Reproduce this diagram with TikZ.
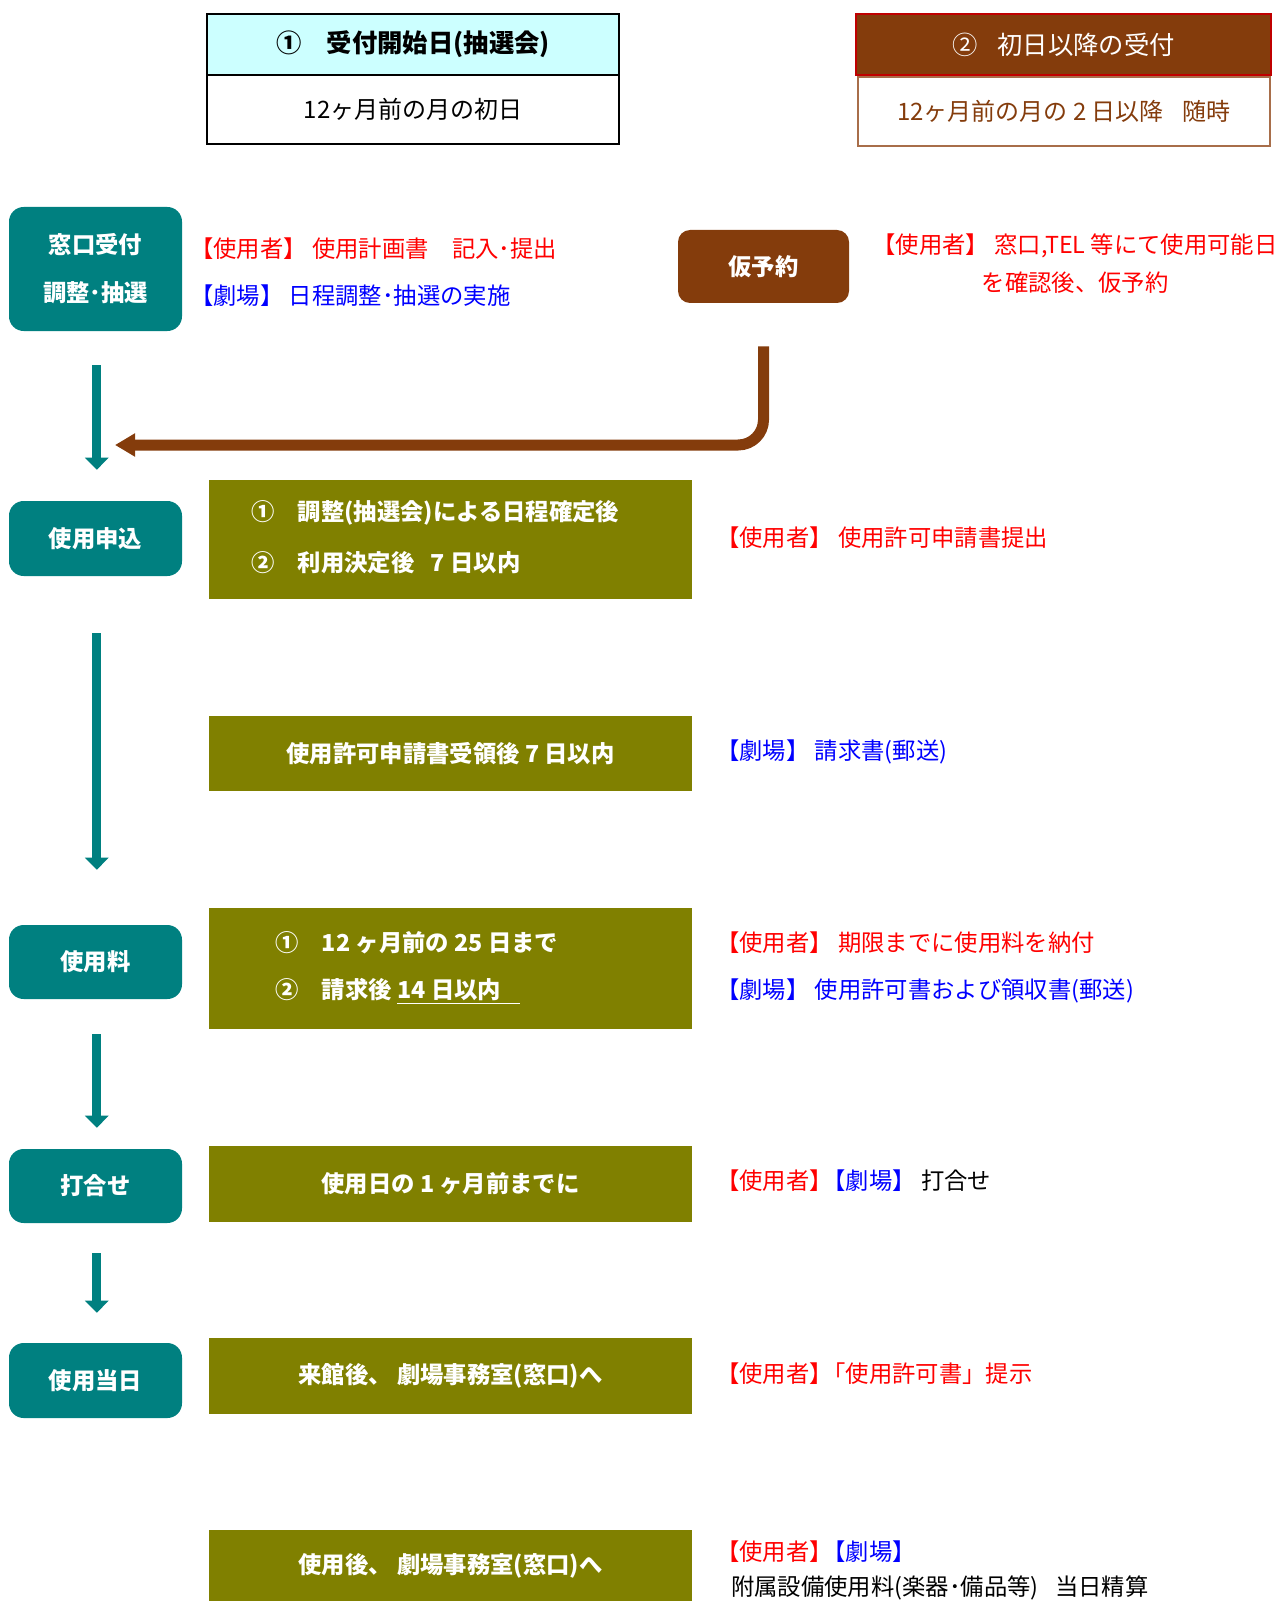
\documentclass[tikz,border=0pt]{standalone}
\usepackage{fontspec}
\setmainfont{Noto Sans CJK JP}
\usetikzlibrary{arrows.meta}
\definecolor{cTeal}{HTML}{008080}
\definecolor{cOlive}{HTML}{808000}
\definecolor{cBrown}{HTML}{843C0C}
\definecolor{cCyan}{HTML}{CCFFFF}
\definecolor{cRed}{HTML}{FF0000}
\definecolor{cBlue}{HTML}{0000FF}
\definecolor{cDarkRed}{HTML}{C00000}
\definecolor{cBrownLine}{HTML}{A86E4A}
\newcommand{\nk}{\hspace{-0.45em}}
\tikzset{
  hdrbox/.style={draw, line width=0.9pt, inner sep=0, minimum width=309pt, minimum height=45.75pt},
  bodybox/.style={draw, line width=0.9pt, inner sep=0, minimum width=309pt, minimum height=51.75pt},
  tealbox/.style={fill=cTeal, rounded corners=11pt, text=white, align=center,
    font=\bfseries\fontsize{17.5}{36}\selectfont, minimum width=129.75pt, inner sep=0},
  olivebox/.style={fill=cOlive, text=white, inner sep=0,
    font=\bfseries\fontsize{17.5}{21}\selectfont, minimum width=362.25pt},
  olivetext/.style={anchor=west, inner sep=0, text=white, font=\bfseries\fontsize{17.5}{21}\selectfont},
  note/.style={anchor=west, inner sep=0, font=\fontsize{17.5}{21}\selectfont},
  tealarrow/.style={draw=cTeal, line width=6.75pt, -{Triangle[width=17.25pt,length=9pt]}},
  brownarrow/.style={draw=cBrown, line width=8.25pt, rounded corners=19pt, -{Triangle[width=16.5pt,length=15pt]}}
}
\begin{document}
\begin{tikzpicture}[x=0.75pt, y=-0.75pt]
\useasboundingbox (0,0) rectangle (1284,1601);

% top header boxes
\node[hdrbox, fill=cCyan, font=\bfseries\fontsize{19}{22}\selectfont] (h1) at (413,44.5) {①\quad 受付開始日(抽選会)};
\node[bodybox, font=\fontsize{18}{22}\selectfont] (b1) at (413,109.5) {12ヶ月前の月の初日};
\node[hdrbox, draw=cDarkRed, fill=cBrown, text=white, minimum width=311.25pt, font=\fontsize{19}{22}\selectfont] (h2) at (1063.5,44.5) {②\hspace{0.8em}初日以降の受付};
\node[bodybox, draw=cBrownLine, text=cBrown, font=\fontsize{18}{22}\selectfont] (b2) at (1064,111.5) {12ヶ月前の月の 2 日以降\hspace{0.8em}随時};

% teal step boxes
\node[tealbox, minimum height=93pt] (mado) at (95.5,269) {窓口受付\\調整･抽選};
\node[tealbox, minimum height=56.25pt] (moushikomi) at (95.5,538.5) {使用申込};
\node[tealbox, minimum height=55.5pt] (ryo) at (95.5,962) {使用料};
\node[tealbox, minimum height=55.5pt] (uchi) at (95.5,1186) {打合せ};
\node[tealbox, minimum height=56.25pt] (toujitsu) at (95.5,1380.5) {使用当日};

% provisional booking
\node[fill=cBrown, rounded corners=9pt, text=white, inner sep=0, minimum width=128.25pt, minimum height=54.75pt,
  font=\bfseries\fontsize{17.5}{21}\selectfont] (kari) at (763.5,266.5) {仮予約};

% olive boxes
\node[olivebox, minimum height=89.25pt] (o1) at (450.5,539.5) {};
\node[olivetext] (o1a) at (251,513) {①\quad 調整(抽選会)による日程確定後};
\node[olivetext] (o1b) at (251,563) {②\quad 利用決定後\hspace{0.7em}7 日以内};
\node[olivebox, minimum height=56.25pt] (o2) at (450.5,753.5) {使用許可申請書受領後 7 日以内};
\node[olivebox, minimum height=90.75pt] (o3) at (450.5,968.5) {};
\node[olivetext] (o3a) at (275,943) {①\quad 12 ヶ月前の 25 日まで};
\node[olivetext] (o3b) at (275,991) {②\quad 請求後 \underline{14 日以内\hspace{0.8em}}};
\node[olivebox, minimum height=57pt] (o4) at (450.5,1184) {使用日の 1 ヶ月前までに};
\node[olivebox, minimum height=57pt] (o5) at (450.5,1376) {来館後、 劇場事務室(窓口)へ};
\node[olivebox, minimum height=53.25pt] (o6) at (450.5,1565.5) {使用後、 劇場事務室(窓口)へ};

% notes
\node[note, text=cRed] (t1a) at (190,249) {【使用者】 使用計画書\quad 記入･提出};
\node[note, text=cBlue] (t1b) at (190,296) {【劇場】 日程調整･抽選の実施};
\node[inner sep=0, text=cRed, align=center, font=\fontsize{17.5}{28.5}\selectfont] (tk) at (1075,264)
  {【使用者】 窓口,TEL 等にて使用可能日\\を確認後、仮予約};
\node[note, text=cRed] (t2) at (716,538) {【使用者】 使用許可申請書提出};
\node[note, text=cBlue] (t3) at (716,752) {【劇場】 請求書(郵送)};
\node[note, text=cRed] (t4a) at (716,943) {【使用者】 期限までに使用料を納付};
\node[note, text=cBlue] (t4b) at (716,991) {【劇場】 使用許可書および領収書(郵送)};
\node[note] (t5) at (716,1181) {\textcolor{cRed}{【使用者】}\nk\textcolor{cBlue}{【劇場】} 打合せ};
\node[note, text=cRed] (t6) at (716,1374) {【使用者】\nk「使用許可書」提示};
\node[note] (t7a) at (716,1552) {\textcolor{cRed}{【使用者】}\nk\textcolor{cBlue}{【劇場】}};
\node[note] (t7b) at (731,1588) {附属設備使用料(楽器･備品等)\hspace{0.7em}当日精算};

% connectors
\coordinate (karitip) at (115,445);
\draw[brownarrow] ([yshift=-32.25pt]kari.south) |- (karitip);
\draw[tealarrow, shorten <=25.5pt, shorten >=23.25pt] ([xshift=1pt]mado.south) -- ([xshift=1pt]moushikomi.north);
\draw[tealarrow, shorten <=42.75pt, shorten >=41.25pt] ([xshift=1pt]moushikomi.south) -- ([xshift=1pt]ryo.north);
\draw[tealarrow, shorten <=26.25pt, shorten >=15.75pt] ([xshift=1pt]ryo.south) -- ([xshift=1pt]uchi.north);
\draw[tealarrow, shorten <=22.5pt, shorten >=22.5pt] ([xshift=1pt]uchi.south) -- ([xshift=1pt]toujitsu.north);
\end{tikzpicture}
\end{document}
